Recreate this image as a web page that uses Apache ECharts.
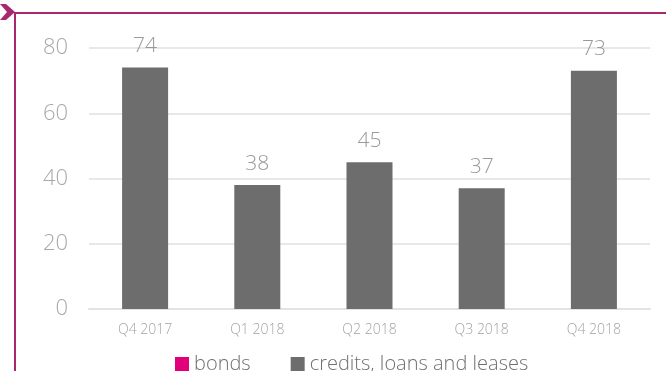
<!DOCTYPE html>
<html><head><meta charset="utf-8">
<script src="https://cdn.jsdelivr.net/npm/echarts@6/dist/echarts.min.js"></script>
<style>html,body{margin:0;padding:0;background:#fff}#c{width:666px;height:371px}</style>
</head><body><div id="c"></div>
<script>
const categories = ['Q4 2017','Q1 2018','Q2 2018','Q3 2018','Q4 2018'];
const bonds = [null,null,null,null,null];
const credits = [74,38,45,37,73];
const yTicks = [0,20,40,60,80];

const FONT = '"Open Sans", Lato, sans-serif';
const chart = echarts.init(document.getElementById('c'), null, {renderer:'canvas'});
chart.setOption({
  animation:false,
  textStyle:{fontFamily:FONT},
  grid:{left:89, right:16, top:48, bottom:62, containLabel:false},
  xAxis:{type:'category', data:categories,
    axisLine:{show:true, lineStyle:{color:'#e3e3e3', width:2}},
    axisTick:{show:false},
    axisLabel:{color:'#a3a3a3', fontSize:14, margin:14, fontFamily:FONT, fontWeight:300}},
  yAxis:{type:'value', min:yTicks[0], max:yTicks[yTicks.length-1], interval:20,
    axisLine:{show:false}, axisTick:{show:false},
    splitLine:{lineStyle:{color:'#e8e8e8', width:2}},
    axisLabel:{color:'#a8a8a8', fontSize:22, margin:21, fontFamily:FONT, fontWeight:300}},
  legend:{top:349, left:170, itemWidth:14, itemHeight:14, itemGap:40, icon:'rect',
    textStyle:{color:'#707070', fontSize:20, fontFamily:FONT, fontWeight:300},
    data:['bonds','credits, loans and leases']},
  series:[
    {name:'bonds', type:'bar', stack:'s', data:bonds, itemStyle:{color:'#e2007a'}, barWidth:'41%'},
    {name:'credits, loans and leases', type:'bar', stack:'s', data:credits, barWidth:'41%',
     itemStyle:{color:'#6d6d6d'},
     label:{show:true, position:'top', distance:11, color:'#999999', fontSize:21, fontFamily:FONT, fontWeight:300}}
  ],
  graphic:[
    {type:'polyline', shape:{points:[[15,371],[15,13],[666,13]]}, style:{stroke:'#a8286f', lineWidth:2, fill:null}},
    {type:'polygon', shape:{points:[[0,4],[6,4],[15,12],[6,20],[0,20],[7,12]]}, style:{fill:'#a8286f'}}
  ]
});
</script></body></html>
